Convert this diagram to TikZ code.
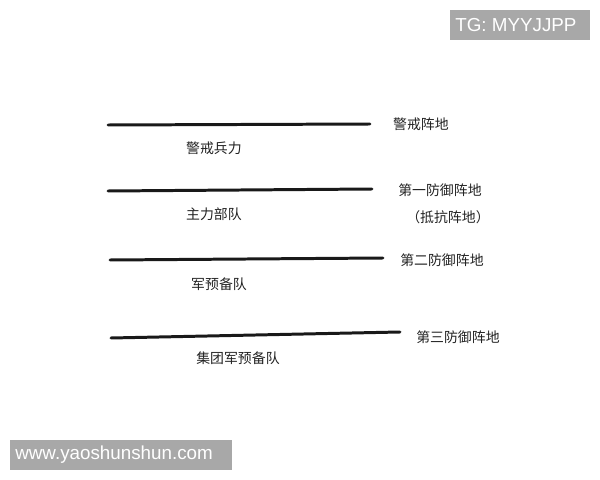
\documentclass[tikz,border=0pt]{standalone}
\usepackage{fontspec}
\setmainfont{Liberation Sans}
\newfontfamily\cjk{Noto Sans CJK SC}
\usepackage{xcolor}
\usepackage{tikz}
\usetikzlibrary{positioning}

\definecolor{inkgray}{HTML}{222222}
\definecolor{markgray}{HTML}{A8A8A8}

\begin{document}
\begin{tikzpicture}[x=0.02cm, y=-0.02cm,
    zone/.style={line width=1.7pt, black!90, line cap=round},
    lbl/.style={inner sep=0pt, text=inkgray, font=\cjk\fontsize{7.9}{9}\selectfont},
    wmark/.style={fill=markgray, text=white, inner sep=0pt, font=\fontsize{10.7}{12}\selectfont}]
\useasboundingbox (0,0) rectangle (600,480);

% lines of defence
\coordinate (l1a) at (108,125); \coordinate (l1b) at (370,124);
\coordinate (l2a) at (108,191); \coordinate (l2b) at (372,189);
\coordinate (l3a) at (110,260); \coordinate (l3b) at (383,258);
\coordinate (l4a) at (111,338); \coordinate (l4b) at (400,332);
\draw[zone] (l1a) -- (l1b);
\draw[zone] (l2a) -- (l2b);
\draw[zone] (l3a) -- (l3b);
\draw[zone] (l4a) -- (l4b);

% positions
\node[lbl] (pos_0) at (421,124) {警戒阵地};
\node[lbl] (pos_1) at (440,190) {第一防御阵地};
\node[lbl] (pos_1b) at (448,217) {（抵抗阵地）};
\node[lbl] (pos_2) at (442,260) {第二防御阵地};
\node[lbl] (pos_3) at (458,337) {第三防御阵地};

% forces
\node[lbl] (force_0) at (214,148) {警戒兵力};
\node[lbl] (force_1) at (214,214) {主力部队};
\node[lbl] (force_2) at (219,284) {军预备队};
\node[lbl] (force_3) at (238,358) {集团军预备队};

% watermarks
\fill[markgray] (450,10) rectangle (590,40);
\node[wmark, anchor=west] (tg) at (455,25) {TG: MYYJJPP};
\fill[markgray] (10,440) rectangle (232,470);
\node[wmark, anchor=west] (www) at (15,455) {www.yaoshunshun.com};
\end{tikzpicture}
\end{document}
